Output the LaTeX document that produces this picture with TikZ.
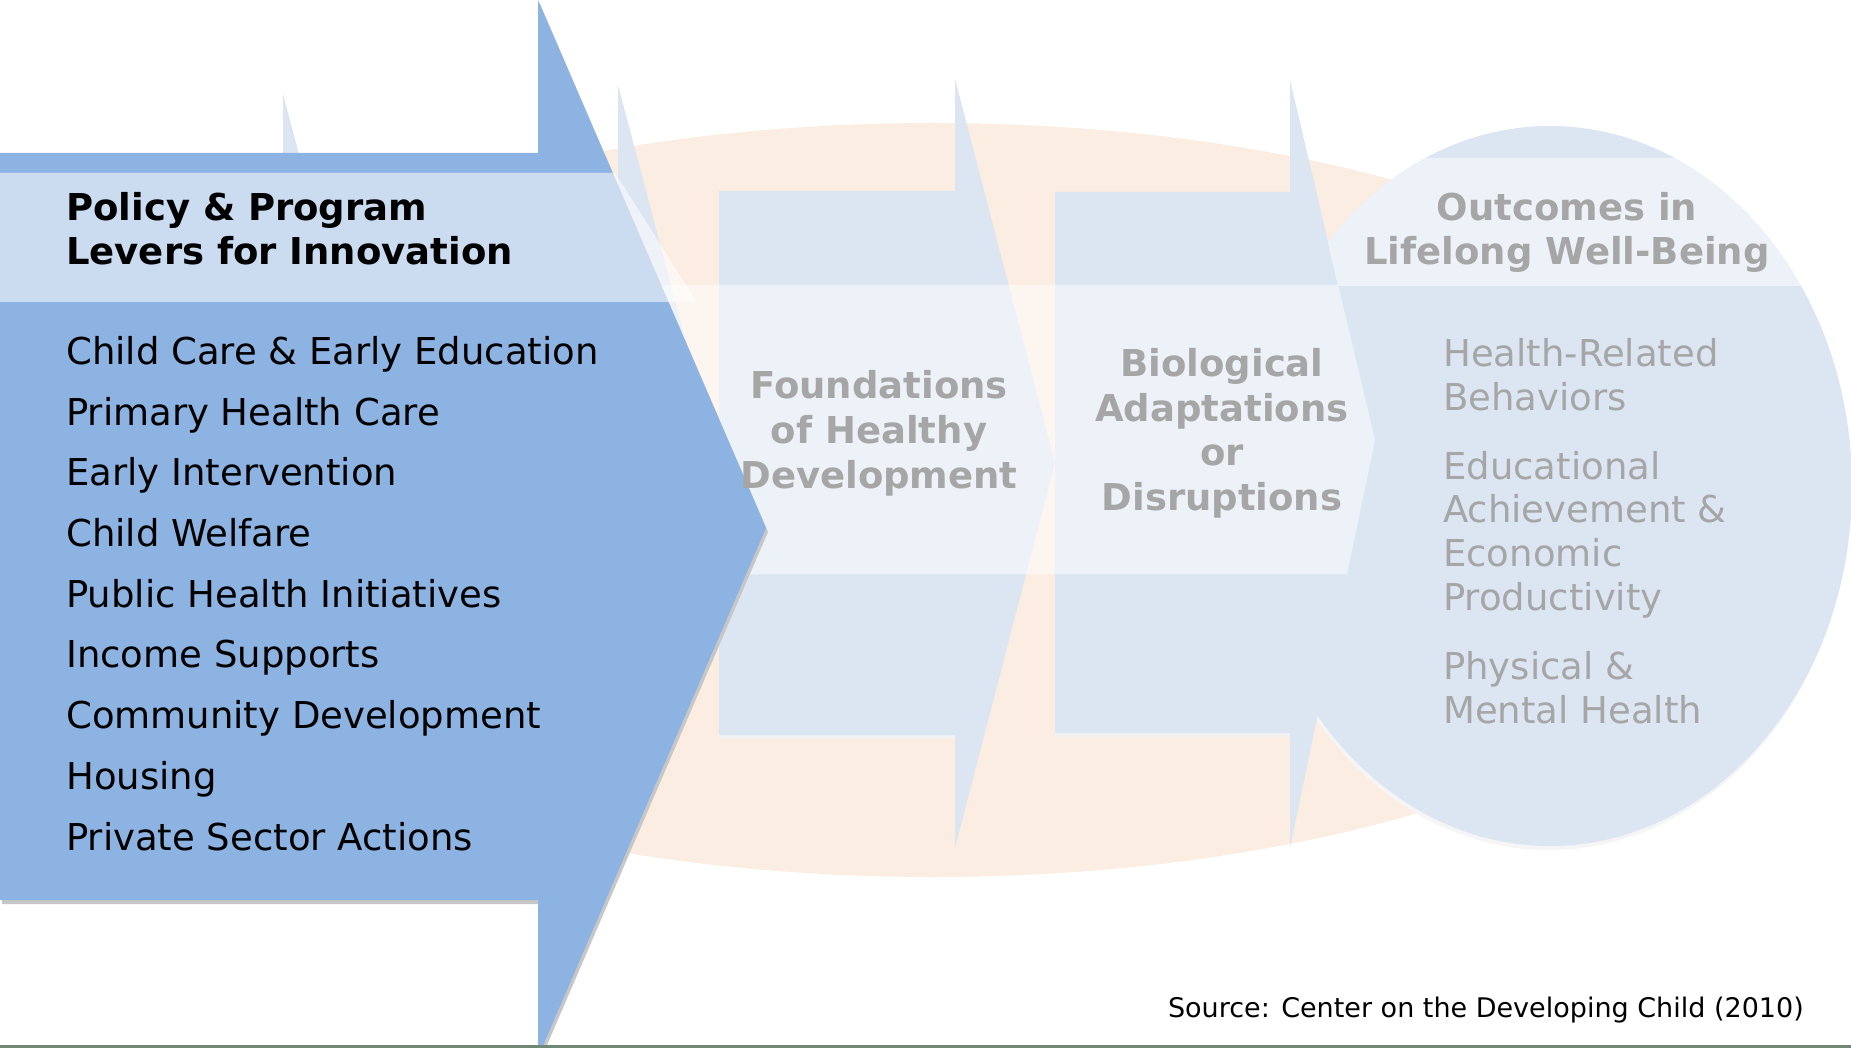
\documentclass[tikz,border=0pt]{standalone}
\usepackage{fontspec}
\setmainfont{DejaVu Sans}
\definecolor{levers}{RGB}{141, 179, 226}
\definecolor{paleblue}{RGB}{220, 230, 242}
\definecolor{peach}{RGB}{251, 237, 225}
\definecolor{fadegray}{RGB}{166, 166, 166}
\definecolor{footline}{RGB}{112, 137, 118}

\tikzset{
  plain/.style={font=\fontsize{37}{44.4}\selectfont, inner sep=0pt},
  heavy/.style={font=\fontsize{37}{44.4}\selectfont\bfseries, inner sep=0pt},
  veil/.style={fill=white, fill opacity=0.5},
}

\begin{document}
\begin{tikzpicture}[x=1pt, y=-1pt]
            \useasboundingbox (0,0) rectangle (1851,1048);
            % background ellipse and outcome disc
            \fill[peach]     (933,500) ellipse [x radius=870pt, y radius=377pt];
            \fill[black!4]   (1549,490) ellipse [x radius=302pt, y radius=360pt];
            \fill[paleblue]  (1550,486) ellipse [x radius=302pt, y radius=360pt];
            % faded chevrons
            \fill[paleblue]  (180,191) -- (283,191) -- (283,94) -- (383,470) -- (283,846) -- (283,735) -- (180,735) -- cycle;
            \fill[paleblue]  (400,191) -- (618,191) -- (618,85) -- (718,463) -- (618,841) -- (618,735) -- (400,735) -- cycle;
            \fill[black!5]   (719,195) rectangle (955,739);
            \fill[paleblue]  (719,191) -- (955,191) -- (955,79) -- (1055,463) -- (955,848) -- (955,735) -- (719,735) -- cycle;
            \fill[black!5]   (1055,196) rectangle (1290,737);
            \fill[paleblue]  (1055,192) -- (1290,192) -- (1290,80) -- (1375,440) -- (1290,848) -- (1290,733) -- (1055,733) -- cycle;
            % light bands
            \fill[veil]      (600,285) -- (1338,285) -- (1375,440) -- (1347,574) -- (600,574) -- cycle;
            \begin{scope}
              \clip (1550,486) ellipse [x radius=302pt, y radius=360pt];
              \fill[veil]    (1308,158) -- (1851,158) -- (1851,286) -- (1338,286) -- cycle;
            \end{scope}
            % highlighted chevron
            \fill[black!22, shift={(2,4)}] (0,153) -- (538,153) -- (538,0) -- (766,528) -- (542,1048) -- (538,1048) -- (538,900) -- (0,900) -- cycle;
            \fill[levers]    (0,153) -- (538,153) -- (538,0) -- (766,528) -- (542,1048) -- (538,1048) -- (538,900) -- (0,900) -- cycle;
            \fill[white, fill opacity=0.55] (0,173) -- (615,173) -- (697,302) -- (0,302) -- cycle;
            % texts (base = last line)
            \node[heavy, anchor=base west, align=left] (leverhead) at (66,265) {Policy \& Program\\Levers for Innovation};
            \node[plain, anchor=base west, align=left, font=\fontsize{37}{60.7}\selectfont] (leverlist) at (66,850)
                 {Child Care \& Early Education\\Primary Health Care\\Early Intervention\\Child Welfare\\Public Health Initiatives\\Income Supports\\Community Development\\Housing\\Private Sector Actions};
            \node[heavy, text=fadegray, anchor=base, align=center, font=\fontsize{37}{45}\selectfont\bfseries] (foundations) at (879,488)
                 {Foundations\\of Healthy\\Development};
            \node[heavy, text=fadegray, anchor=base, align=center] (biology) at (1222,510)
                 {Biological\\Adaptations\\or\\Disruptions};
            \node[heavy, text=fadegray, anchor=base, align=center] (outcomes) at (1567,265)
                 {Outcomes in\\Lifelong Well-Being};
            \node[plain, text=fadegray, anchor=base west, align=left, font=\fontsize{37}{43.8}\selectfont] (outcomelist) at (1443,723)
                 {Health-Related\\Behaviors\\[25pt]Educational\\Achievement \&\\Economic\\Productivity\\[25pt]Physical \&\\Mental Health};
            \node[anchor=base east, inner sep=0pt, font=\fontsize{27}{31}\selectfont] (source) at (1804,1017)
                 {Source: Center on the Developing Child (2010)};
            \fill[footline]  (0,1044.5) rectangle (1851,1048);
\end{tikzpicture}
\end{document}
